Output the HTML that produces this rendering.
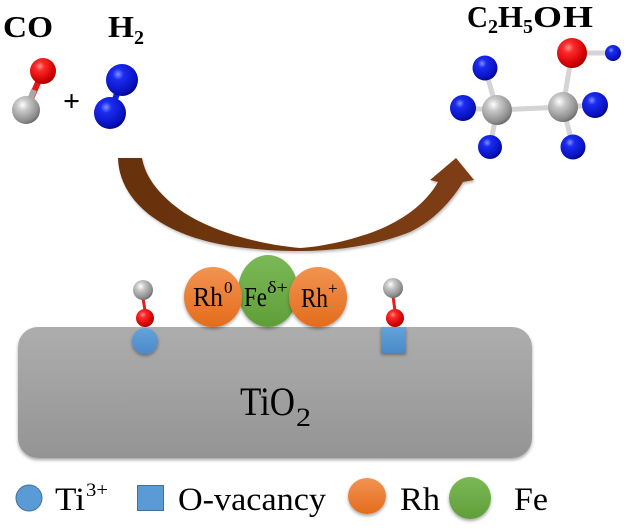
<!DOCTYPE html>
<html><head><meta charset="utf-8"><style>
html,body{margin:0;padding:0;background:#fff;width:627px;height:531px;overflow:hidden}
svg{display:block}
text{font-family:"Liberation Serif",serif}
</style></head><body>
<svg width="627" height="531" viewBox="0 0 627 531" xmlns="http://www.w3.org/2000/svg">
<defs>
<radialGradient id="gRed" cx="0.38" cy="0.32" r="0.7"><stop offset="0" stop-color="#ff9090"/><stop offset="0.25" stop-color="#ff2a2a"/><stop offset="0.8" stop-color="#d00000"/><stop offset="1" stop-color="#a00000"/></radialGradient>
<radialGradient id="gBlue" cx="0.38" cy="0.32" r="0.7"><stop offset="0" stop-color="#8090ff"/><stop offset="0.25" stop-color="#1a2cf0"/><stop offset="0.8" stop-color="#0a12c0"/><stop offset="1" stop-color="#00088a"/></radialGradient>
<radialGradient id="gGray" cx="0.38" cy="0.32" r="0.7"><stop offset="0" stop-color="#ffffff"/><stop offset="0.3" stop-color="#c8c8c8"/><stop offset="0.85" stop-color="#8a8a8a"/><stop offset="1" stop-color="#6a6a6a"/></radialGradient>
<linearGradient id="gSlab" x1="0" y1="0" x2="0" y2="1"><stop offset="0" stop-color="#adadad"/><stop offset="1" stop-color="#949494"/></linearGradient>
<linearGradient id="gOr" x1="0" y1="0" x2="0" y2="1"><stop offset="0" stop-color="#f29352"/><stop offset="1" stop-color="#e36c1c"/></linearGradient>
<linearGradient id="gGr" x1="0" y1="0" x2="0" y2="1"><stop offset="0" stop-color="#7bb957"/><stop offset="1" stop-color="#5f9e38"/></linearGradient>
<linearGradient id="gBl" x1="0" y1="0" x2="0" y2="1"><stop offset="0" stop-color="#64a2da"/><stop offset="1" stop-color="#4b8ac8"/></linearGradient>
<linearGradient id="gArr" x1="0" y1="0" x2="1" y2="0"><stop offset="0" stop-color="#663110"/><stop offset="1" stop-color="#7f3e12"/></linearGradient>
<filter id="sh" x="-20%" y="-20%" width="140%" height="150%"><feDropShadow dx="0" dy="2" stdDeviation="1.6" flood-color="#000" flood-opacity="0.35"/></filter>
<filter id="shA" x="-10%" y="-10%" width="120%" height="130%"><feDropShadow dx="1" dy="2" stdDeviation="1.2" flood-color="#000" flood-opacity="0.25"/></filter>
</defs>

<!-- Top-left: CO + H2 -->
<text x="3" y="37" font-size="31" font-weight="bold" textLength="50" lengthAdjust="spacingAndGlyphs">CO</text>
<text x="108" y="37" font-size="31" font-weight="bold" textLength="26" lengthAdjust="spacingAndGlyphs">H</text>
<text x="134" y="44" font-size="20" font-weight="bold">2</text>

<line x1="43" y1="71" x2="26" y2="110" stroke="#e01818" stroke-width="6"/>
<line x1="34" y1="90" x2="26" y2="110" stroke="#a8a8a8" stroke-width="6"/>
<circle cx="26" cy="110" r="14" fill="url(#gGray)"/>
<circle cx="43" cy="71" r="13" fill="url(#gRed)"/>
<text x="63" y="111" font-size="30" font-weight="bold">+</text>
<line x1="122" y1="80" x2="110" y2="113" stroke="#1020d0" stroke-width="6"/>
<circle cx="122" cy="80" r="16" fill="url(#gBlue)"/>
<circle cx="110" cy="113" r="16" fill="url(#gBlue)"/>

<!-- Top-right: ethanol -->
<text x="467" y="27" font-size="31" font-weight="bold" textLength="21" lengthAdjust="spacingAndGlyphs">C</text>
<text x="488" y="33" font-size="20" font-weight="bold" textLength="10" lengthAdjust="spacingAndGlyphs">2</text>
<text x="498" y="27" font-size="31" font-weight="bold" textLength="25" lengthAdjust="spacingAndGlyphs">H</text>
<text x="523" y="33" font-size="20" font-weight="bold" textLength="10" lengthAdjust="spacingAndGlyphs">5</text>
<text x="533" y="27" font-size="31" font-weight="bold" textLength="29" lengthAdjust="spacingAndGlyphs">O</text>
<text x="563" y="27" font-size="31" font-weight="bold" textLength="30" lengthAdjust="spacingAndGlyphs">H</text>

<g stroke="#d4d4d4" stroke-width="5" stroke-linecap="round">
<line x1="497" y1="110" x2="563" y2="107"/>
<line x1="497" y1="110" x2="485" y2="68"/>
<line x1="497" y1="110" x2="463" y2="108"/>
<line x1="497" y1="110" x2="490" y2="147"/>
<line x1="563" y1="107" x2="572" y2="53"/>
<line x1="563" y1="107" x2="595" y2="105"/>
<line x1="563" y1="107" x2="573" y2="147"/>
<line x1="572" y1="53" x2="613" y2="53"/>
</g>
<circle cx="485" cy="68" r="12.5" fill="url(#gBlue)"/>
<circle cx="463" cy="108" r="13" fill="url(#gBlue)"/>
<circle cx="490" cy="147" r="12" fill="url(#gBlue)"/>
<circle cx="595" cy="105" r="13" fill="url(#gBlue)"/>
<circle cx="573" cy="147" r="12.5" fill="url(#gBlue)"/>
<circle cx="613" cy="53" r="8" fill="url(#gBlue)"/>
<circle cx="572" cy="53" r="15" fill="url(#gRed)"/>
<circle cx="497" cy="110" r="15" fill="url(#gGray)"/>
<circle cx="563" cy="107" r="15" fill="url(#gGray)"/>

<!-- Curved arrow -->
<path filter="url(#shA)" fill="url(#gArr)" d="M118,158 C119,200 160,235 230,246 C260,250 280,251 300,251 C340,251 380,244 410,232 C435,220 452,200 463,182 L474,180 L456,158 L430,180 L438,182 C425,205 400,222 373,232 C345,242 318,247 300,248 C255,244 210,230 183,212 C162,197 146,180 142,158 Z"/>

<!-- Slab -->
<rect x="18" y="327" width="514" height="131" rx="20" ry="20" fill="url(#gSlab)" filter="url(#sh)"/>
<text x="240" y="415" font-size="40" textLength="55" lengthAdjust="spacingAndGlyphs">TiO</text>
<text x="296" y="426" font-size="26" textLength="15" lengthAdjust="spacingAndGlyphs">2</text>

<!-- Left adsorbed CO on Ti3+ -->
<circle cx="145" cy="341" r="13" fill="url(#gBl)" filter="url(#sh)"/>
<line x1="143" y1="298" x2="145" y2="311" stroke="#e02020" stroke-width="3"/>
<circle cx="143" cy="290" r="10" fill="url(#gGray)"/>
<circle cx="145" cy="318" r="9" fill="url(#gRed)"/>

<!-- Right adsorbed CO on O-vacancy -->
<rect x="381" y="327" width="25" height="26" fill="url(#gBl)" filter="url(#sh)"/>
<line x1="393" y1="296" x2="395" y2="311" stroke="#e02020" stroke-width="3"/>
<circle cx="393" cy="288" r="10" fill="url(#gGray)"/>
<circle cx="395" cy="318" r="9" fill="url(#gRed)"/>

<!-- Rh / Fe spheres -->
<ellipse cx="268" cy="291" rx="30" ry="36" fill="url(#gGr)" filter="url(#sh)"/>
<ellipse cx="213" cy="297" rx="29" ry="30" fill="url(#gOr)" filter="url(#sh)"/>
<ellipse cx="318" cy="297" rx="29" ry="30" fill="url(#gOr)" filter="url(#sh)"/>
<text x="193" y="306" font-size="27" textLength="30" lengthAdjust="spacingAndGlyphs">Rh</text>
<text x="224" y="293" font-size="17">0</text>
<text x="244" y="306" font-size="27" textLength="23" lengthAdjust="spacingAndGlyphs">Fe</text>
<text x="267" y="293" font-size="17" textLength="21" lengthAdjust="spacingAndGlyphs">δ+</text>
<text x="301" y="307" font-size="27" textLength="27" lengthAdjust="spacingAndGlyphs">Rh</text>
<text x="328" y="294" font-size="17">+</text>

<!-- Legend -->
<circle cx="29" cy="498" r="13" fill="#5b9bd5" stroke="#41719c" stroke-width="1"/>
<text x="55" y="510" font-size="33" textLength="30" lengthAdjust="spacingAndGlyphs">Ti</text>
<text x="86" y="496" font-size="19" textLength="22" lengthAdjust="spacingAndGlyphs">3+</text>
<rect x="137.5" y="485.5" width="26" height="25" fill="#5b9bd5" stroke="#41719c" stroke-width="1"/>
<text x="178" y="510" font-size="33" textLength="148" lengthAdjust="spacingAndGlyphs">O-vacancy</text>
<ellipse cx="367" cy="496" rx="19" ry="18" fill="url(#gOr)" filter="url(#sh)"/>
<text x="400" y="510" font-size="33" textLength="40" lengthAdjust="spacingAndGlyphs">Rh</text>
<ellipse cx="470" cy="498" rx="21" ry="21" fill="url(#gGr)" filter="url(#sh)"/>
<text x="514" y="510" font-size="33" textLength="34" lengthAdjust="spacingAndGlyphs">Fe</text>
</svg>
</body></html>
